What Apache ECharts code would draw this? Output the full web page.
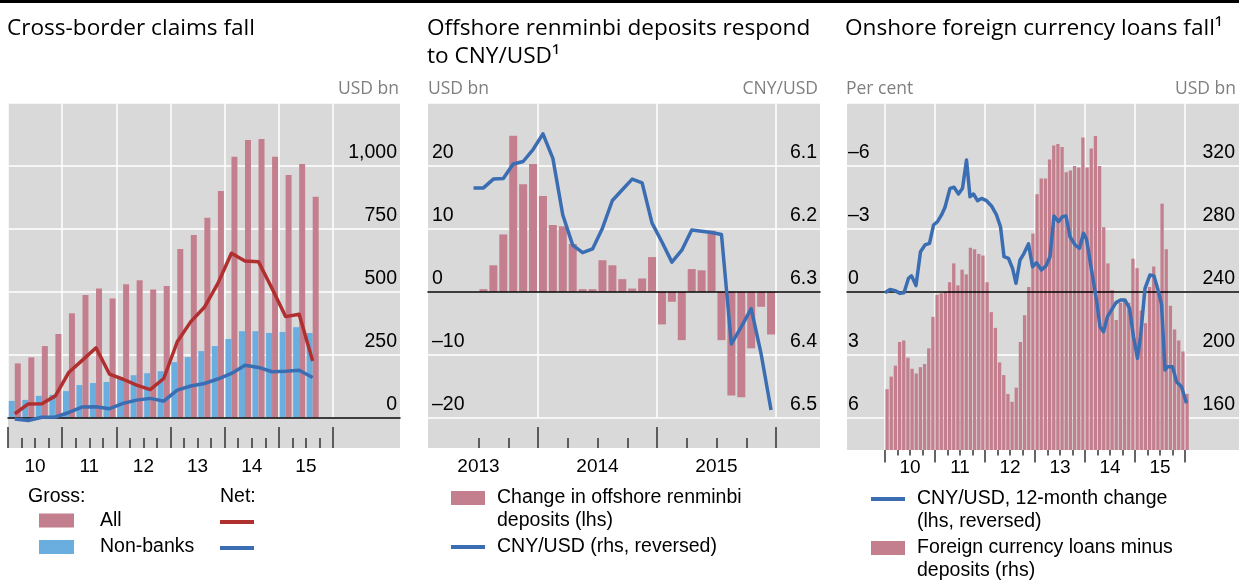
<!DOCTYPE html>
<html>
<head>
<meta charset="utf-8">
<title>Cross-border claims, offshore deposits, onshore FX loans</title>
<script src="https://cdn.jsdelivr.net/npm/echarts@6/dist/echarts.min.js"></script>
<style>
  html, body { margin: 0; padding: 0; background: #fff; }
  #chart { width: 1239px; height: 581px; }
</style>
</head>
<body>
<div id="chart"></div>
<script>
// helpers for date strings -> decimal year (centre of the period)
const monthList = (start, n) => {
  let y = +start.slice(0, 4), m = +start.slice(5, 7)
  const out = []
  for (let i = 0; i < n; i++) {
    out.push(y + '-' + String(m).padStart(2, '0'))
    m++
    if (m > 12) { m = 1; y++ }
  }
  return out
}
const quarterPos = q => +q.slice(0, 4) + (+q.slice(5) - 0.5) / 4
const monthPos = m => +m.slice(0, 4) + (+m.slice(5, 7) - 0.5) / 12

// ---- left panel: cross-border claims, USD bn, quarterly ----
const claimQuarters = ['2010Q1', '2010Q2', '2010Q3', '2010Q4', '2011Q1', '2011Q2', '2011Q3', '2011Q4',
  '2012Q1', '2012Q2', '2012Q3', '2012Q4', '2013Q1', '2013Q2', '2013Q3', '2013Q4',
  '2014Q1', '2014Q2', '2014Q3', '2014Q4', '2015Q1', '2015Q2', '2015Q3']
const grossAll = [215, 239, 284, 332, 414, 487, 513, 473, 530, 546, 509, 523, 670, 725, 794, 900, 1036, 1103, 1107, 1036, 964, 1008, 877]
const grossNonBanks = [66, 70, 86, 90, 105, 129, 137, 141, 153, 168, 176, 184, 220, 240, 264, 284, 312, 343, 343, 336, 340, 359, 336]
const netAll = [15, 54, 55, 86, 180, 228, 277, 172, 152, 129, 111, 155, 301, 381, 438, 533, 653, 622, 619, 513, 401, 410, 225]
const netNonBanks = [-6, -12, 1, 2, 20, 42, 43, 35, 56, 69, 76, 65, 109, 125, 135, 153, 175, 208, 199, 182, 184, 188, 159]

// ---- middle panel: offshore renminbi deposits ----
const depositMonths = monthList('2013-07', 30)
const depositChange = [0.4, 4.2, 9.1, 24.8, 17.1, 20.3, 15.2, 10.6, 10.4, 7.6, 0.4, 0.4,
  5.0, 4.2, 2.0, 0.5, 2.1, 5.5, -5.2, -1.6, -7.7, 3.6, 3.4, 9.7, -7.7, -16.5, -16.8, -9.0, -2.4, -6.8]
const cnyMonths = monthList('2013-06', 31)
const cnyLevel = [6.135, 6.135, 6.121, 6.120, 6.097, 6.093, 6.074, 6.049, 6.088, 6.178, 6.226, 6.238,
  6.232, 6.199, 6.155, 6.138, 6.121, 6.127, 6.191, 6.221, 6.253, 6.234, 6.202, 6.204, 6.206, 6.209,
  6.383, 6.356, 6.327, 6.399, 6.488]

// ---- right panel: onshore foreign currency loans ----
const loanMonths = monthList('2010-01', 73)
const loansMinusDeposits = [
  178, 186, 193, 208, 209, 198, 191, 188, 192, 194, 204, 224,
  238, 239, 240, 246, 258, 244, 254, 251, 268, 267, 264, 263,
  246, 227, 217, 195, 187, 175, 170, 179, 208, 225, 243, 277,
  302, 312, 312, 324, 333, 334, 332, 316, 317, 320, 319, 338,
  319, 331, 339, 320, 281, 258, 241, 222, 233, 235, 233, 261,
  255, 228, 220, 243, 256, 240, 296, 267, 231, 216, 209, 202,
  175]
const cnyChangeDates = [2010.0, 2010.10, 2010.20, 2010.30, 2010.38, 2010.47, 2010.53, 2010.62, 2010.71, 2010.80,
  2010.89, 2010.97, 2011.05, 2011.13, 2011.20, 2011.30, 2011.38, 2011.47, 2011.55, 2011.63, 2011.70, 2011.77,
  2011.85, 2011.93, 2012.03, 2012.13, 2012.23, 2012.31, 2012.38, 2012.47, 2012.55, 2012.62, 2012.70, 2012.78,
  2012.87, 2012.95, 2013.03, 2013.13, 2013.22, 2013.30, 2013.38, 2013.47, 2013.55, 2013.62, 2013.70, 2013.80,
  2013.89, 2013.97, 2014.03, 2014.13, 2014.23, 2014.30, 2014.37, 2014.45, 2014.53, 2014.62, 2014.71, 2014.80,
  2014.89, 2014.97, 2015.05, 2015.11, 2015.20, 2015.30, 2015.38, 2015.47, 2015.53, 2015.60, 2015.65, 2015.75,
  2015.83, 2015.93, 2016.03]
const cnyChange = [0.05, -0.11, -0.05, 0.08, 0.05, -0.64, -0.76, -0.29, -1.91, -2.23,
  -2.31, -3.18, -3.34, -3.66, -4.03, -4.93, -4.98, -4.66, -4.93, -6.28, -4.53, -4.66,
  -4.34, -4.45, -4.34, -4.09, -3.66, -3.10, -1.67, -1.59, -1.12, -0.40, -1.51, -1.83,
  -2.28, -1.19, -1.38, -1.04, -1.23, -1.67, -3.61, -3.34, -3.58, -3.61, -2.62, -2.23,
  -2.07, -2.79, -2.50, -1.04, 0.40, 1.67, 1.91, 1.19, 0.87, 0.52, 0.40, 0.40,
  0.79, 2.15, 3.18, 2.15, -0.16, -0.80, -0.75, 0.0, 0.59, 3.73, 3.58, 3.58,
  4.29, 4.53, 5.32]

// ---- layout ----
const TOP = 103, GRID_BOT = 417.5, STRIP_BOT = 448, P3_BOT = 450
const BG = '#d9d9d9', PINK = '#c47f8e', SKY = '#6aaee0', RED = '#b0302f', BLUE = '#3b6db3'
const panels = {
  claims: { left: 8, width: 392, x0: 8, year0: 2010, perYear: 325 / 6 },
  deposits: { left: 428, width: 392, x0: 419, year0: 2013, perYear: 119 },
  loans: { left: 847, width: 392, x0: 885, year0: 2010, perYear: 50 }
}
const xAt = (p, year) => p.x0 + (year - p.year0) * p.perYear

const grid = [], xAxis = [], yAxis = [], series = []
const hiddenAxis = { type: 'value', show: false, min: 0, max: 1 }
const noLine = { show: false }
const whiteSplit = { show: true, lineStyle: { color: '#fff', width: 1.5 } }
const numText = { fontFamily: 'Liberation Sans', fontSize: 19.5, color: '#000', lineHeight: 20 }
const dash = v => (v < 0 ? '\u2013' + (-v) : String(v))

function addGrid(box, xa, ya) {
  const gridIndex = grid.length
  grid.push(box)
  const x = xAxis.push(Object.assign({ gridIndex }, xa || hiddenAxis)) - 1
  const y = [].concat(ya || hiddenAxis).map(a => yAxis.push(Object.assign({ gridIndex }, a)) - 1)
  return { x, y }
}
function valueAxis(opts) {
  return Object.assign({ type: 'value', axisLine: noLine, axisTick: noLine, axisLabel: noLine, splitLine: noLine }, opts)
}
function yLabels(fmt, extra) {
  return Object.assign({}, numText, { inside: true, margin: 3, verticalAlign: 'bottom', padding: [0, 0, 3, 0], formatter: fmt }, extra)
}
function background(p, bottom) {
  addGrid({ left: p.left, top: TOP, width: p.width, height: bottom - TOP, show: true, backgroundColor: BG, borderWidth: 0 })
}
// horizontal grid lines, zero line and the value labels
function valueGrid(p, yAxes) {
  return addGrid({ left: p.left, top: TOP, width: p.width, height: GRID_BOT - TOP },
    valueAxis({ min: 0, max: 1, z: 3, axisLine: { show: true, onZero: true, lineStyle: { color: '#000', width: 1.5 } } }),
    yAxes)
}
// vertical white lines at year starts
function yearLines(p, from, to, bottom) {
  addGrid({ left: xAt(p, from), top: TOP, width: (to - from) * p.perYear, height: bottom - TOP },
    valueAxis({ min: from, max: to, interval: 1, splitLine: whiteSplit }))
}
function dataGrid(p, from, to, bottom, yAxes) {
  return addGrid({ left: xAt(p, from), top: TOP, width: (to - from) * p.perYear, height: bottom - TOP },
    { type: 'value', show: false, min: from, max: to }, yAxes)
}
function ticks(p, from, to, step, length, top, bottom, inside, offset) {
  addGrid({ left: xAt(p, from), top, width: (to - from) * p.perYear, height: bottom - top },
    valueAxis({ min: from, max: to, interval: step, offset: offset || 0,
      axisTick: { show: true, inside, length, lineStyle: { color: '#333', width: 1.5 } } }))
}
function yearLabels(p, from, to, top, bottom, margin, fmt) {
  addGrid({ left: xAt(p, from + 0.5), top, width: (to - from - 1) * p.perYear, height: bottom - top },
    valueAxis({ min: from + 0.5, max: to - 0.5, interval: 1,
      axisLabel: Object.assign({}, numText, { fontSize: 19, margin, formatter: fmt }) }))
}

// left panel
const P1 = panels.claims
const k12 = (STRIP_BOT - GRID_BOT) / (GRID_BOT - TOP)
background(P1, STRIP_BOT)
valueGrid(P1, valueAxis({ position: 'right', min: 0, max: 1250, interval: 250, splitLine: whiteSplit,
  axisLabel: yLabels(v => String(v).replace(/\B(?=(\d{3})+(?!\d))/g, ','), { showMaxLabel: false }) }))
yearLines(P1, 2010, 2016, GRID_BOT)
const g1 = dataGrid(P1, 2010, 2016.5, STRIP_BOT, { type: 'value', show: false, min: -1250 * k12, max: 1250 })
ticks(P1, 2010, 2016, 0.25, 10, GRID_BOT, STRIP_BOT, true)
ticks(P1, 2010, 2016, 1, 21, GRID_BOT, STRIP_BOT, true)
yearLabels(P1, 2010, 2016, GRID_BOT, STRIP_BOT, 9, v => String(Math.floor(v) % 100))

// middle panel
const P2 = panels.deposits
background(P2, STRIP_BOT)
valueGrid(P2, [
  valueAxis({ position: 'left', min: -20, max: 30, interval: 10, splitLine: whiteSplit,
    axisLabel: yLabels(dash, { showMaxLabel: false, margin: 4 }) }),
  valueAxis({ position: 'right', inverse: true, min: 6.0, max: 6.5, interval: 0.1,
    axisLabel: yLabels(v => v.toFixed(1), { showMinLabel: false }) })
])
yearLines(P2, 2013, 2016, GRID_BOT)
const g2 = dataGrid(P2, 2013, 2016.5, STRIP_BOT, [
  { type: 'value', show: false, min: -20 - 50 * k12, max: 30 },
  { type: 'value', show: false, inverse: true, min: 6.0, max: 6.5 + 0.5 * k12 }
])
ticks(P2, 2013.5, 2016, 0.25, 10, GRID_BOT, STRIP_BOT, true)
ticks(P2, 2014, 2016, 1, 21, GRID_BOT, STRIP_BOT, true)
yearLabels(P2, 2013, 2016, GRID_BOT, STRIP_BOT, 9, v => String(Math.floor(v)))

// right panel
const P3 = panels.loans
const k3 = (P3_BOT - GRID_BOT) / (GRID_BOT - TOP)
background(P3, P3_BOT)
valueGrid(P3, [
  valueAxis({ position: 'left', inverse: true, min: -9, max: 6, interval: 3, splitLine: whiteSplit,
    axisLabel: yLabels(dash, { showMinLabel: false, margin: 1 }) }),
  valueAxis({ position: 'right', min: 160, max: 360, interval: 40,
    axisLabel: yLabels(String, { showMaxLabel: false, margin: 4 }) })
])
yearLines(P3, 2010, 2016, P3_BOT)
const g3 = dataGrid(P3, 2010, 2016.5, P3_BOT, [
  { type: 'value', show: false, inverse: true, min: -9, max: 6 + 15 * k3 },
  { type: 'value', show: false, min: 160 - 200 * k3, max: 360 }
])
ticks(P3, 2010, 2016, 0.25, 5.5, TOP, P3_BOT, false, 2.5)
ticks(P3, 2010, 2016, 1, 12.5, TOP, P3_BOT, false, 2.5)
yearLabels(P3, 2010, 2016, TOP, P3_BOT, 8, v => String(Math.floor(v) % 100))

// series
const lineSeries = (name, g, yi, color, data) => ({
  name, type: 'line', xAxisIndex: g.x, yAxisIndex: g.y[yi], symbol: 'none', z: 4,
  lineStyle: { color, width: 3.5, join: 'round' }, itemStyle: { color }, data
})
const barSeries = (name, g, yi, color, width, data) => ({
  name, type: 'bar', xAxisIndex: g.x, yAxisIndex: g.y[yi], barWidth: width, barGap: '0%',
  itemStyle: { color }, data
})
const qx = claimQuarters.map(quarterPos)
const DEP_BAR = 'Change in offshore renminbi deposits (lhs)'
const DEP_LINE = 'CNY/USD (rhs, reversed)'
const LOAN_LINE = 'CNY/USD, 12-month change (lhs, reversed)'
const LOAN_BAR = 'Foreign currency loans minus deposits (rhs)'
series.push(
  barSeries('Non-banks', g1, 0, SKY, 6, qx.map((x, i) => [x, grossNonBanks[i]])),
  barSeries('All', g1, 0, PINK, 6, qx.map((x, i) => [x, grossAll[i]])),
  lineSeries('Net: all', g1, 0, RED, qx.map((x, i) => [x, netAll[i]])),
  lineSeries('Net: non-banks', g1, 0, BLUE, qx.map((x, i) => [x, netNonBanks[i]])),
  barSeries(DEP_BAR, g2, 0, PINK, 8, depositMonths.map((m, i) => [monthPos(m), depositChange[i]])),
  lineSeries(DEP_LINE, g2, 1, BLUE, cnyMonths.map((m, i) => [monthPos(m), cnyLevel[i]])),
  barSeries(LOAN_BAR, g3, 1, PINK, 3.3, loanMonths.map((m, i) => [monthPos(m), loansMinusDeposits[i]])),
  lineSeries(LOAN_LINE, g3, 0, BLUE, cnyChangeDates.map((d, i) => [d, cnyChange[i]]))
)

// legends, one per item so each can sit where the original has it
const legendText = { fontFamily: 'Liberation Sans', fontSize: 19.5, color: '#000', lineHeight: 23 }
function legendItem(name, left, top, opts) {
  return Object.assign({
    data: [name], left, top, padding: 0, selectedMode: false, icon: 'rect', itemWidth: 34, itemHeight: 14,
    textStyle: Object.assign({}, legendText, { padding: [0, 0, 0, 7] })
  }, opts)
}
// a leading blank line keeps the first text line level with the icon
const wrapped = (a, b) => () => '\n' + a + '\n' + b
const wideText = Object.assign({}, legendText, { padding: [0, 0, 0, 21] })
const legend = [
  legendItem('All', 39, 509, { itemWidth: 35, textStyle: wideText }),
  legendItem('Non-banks', 39, 535.5, { itemWidth: 35, textStyle: wideText }),
  legendItem('Net: all', 220, 520, { itemHeight: 4, formatter: () => '' }),
  legendItem('Net: non-banks', 220, 546, { itemHeight: 4, formatter: () => '' }),
  legendItem(DEP_BAR, 451, 463.5, { formatter: wrapped('Change in offshore renminbi', 'deposits (lhs)') }),
  legendItem(DEP_LINE, 451, 535.5, { itemHeight: 4 }),
  legendItem(LOAN_LINE, 871, 464.5, { itemHeight: 4, formatter: wrapped('CNY/USD, 12-month change', '(lhs, reversed)') }),
  legendItem(LOAN_BAR, 871, 513.5, { formatter: wrapped('Foreign currency loans minus', 'deposits (rhs)') })
]

const headStyle = { fontFamily: 'Open Sans', fontSize: 22.6, fontWeight: 'normal', color: '#000', lineHeight: 28 }
const unitStyle = { fontFamily: 'Open Sans', fontSize: 17.5, fontWeight: 'normal', color: '#7f7f7f', lineHeight: 22 }
const keyStyle = Object.assign({}, legendText, { fontWeight: 'normal' })
const title = [
  { text: 'Cross-border claims fall', left: 7, top: 15, padding: 0, textStyle: headStyle },
  { text: 'Offshore renminbi deposits respond\nto CNY/USD\u00b9', left: 427, top: 15, padding: 0, textStyle: headStyle },
  { text: 'Onshore foreign currency loans fall\u00b9', left: 845, top: 15, padding: 0, textStyle: headStyle },
  { text: 'USD bn', right: 1239 - 399, top: 78, padding: 0, textStyle: unitStyle },
  { text: 'USD bn', left: 428, top: 78, padding: 0, textStyle: unitStyle },
  { text: 'CNY/USD', right: 1239 - 818, top: 78, padding: 0, textStyle: unitStyle },
  { text: 'Per cent', left: 846, top: 78, padding: 0, textStyle: unitStyle },
  { text: 'USD bn', right: 3, top: 78, padding: 0, textStyle: unitStyle },
  { text: 'Gross:', left: 28, top: 485.5, padding: 0, textStyle: keyStyle },
  { text: 'Net:', left: 220, top: 485.5, padding: 0, textStyle: keyStyle }
]

const chart = echarts.init(document.getElementById('chart'))
chart.setOption({
  animation: false,
  backgroundColor: '#fff',
  title,
  legend,
  grid,
  xAxis,
  yAxis,
  series,
  graphic: [{ type: 'rect', left: 0, top: 0, shape: { width: 1239, height: 3 }, style: { fill: '#000' } }]
})
window.addEventListener('resize', () => chart.resize())
</script>
</body>
</html>
